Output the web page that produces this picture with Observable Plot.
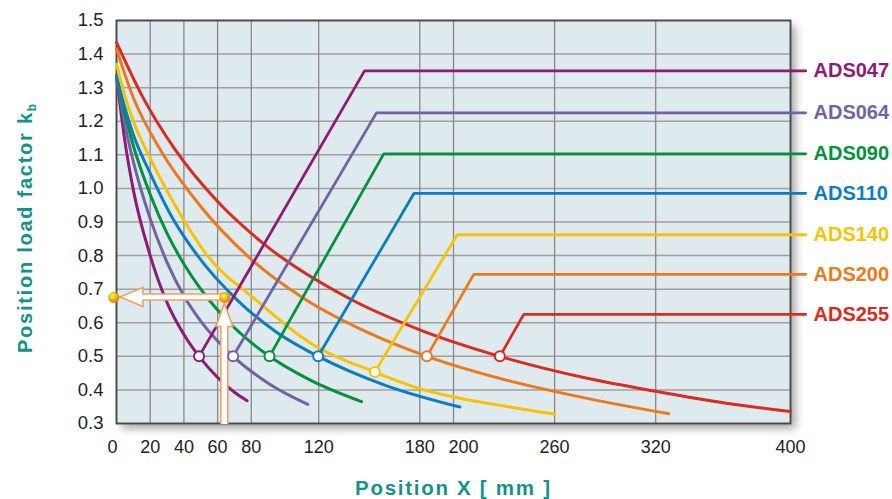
<!DOCTYPE html>
<html><head><meta charset="utf-8">
<script src="https://cdn.jsdelivr.net/npm/d3@7"></script>
<script src="https://cdn.jsdelivr.net/npm/@observablehq/plot@0.6"></script>
<style>
html,body{margin:0;padding:0;background:#fff;}
#chart{width:892px;height:499px;overflow:hidden;}
</style></head><body><div id="chart"></div>
<script>
// ---- data ----
const series = ["ADS047","ADS064","ADS090","ADS110","ADS140","ADS200","ADS255"];
const seriesColors = ["#8d1b75","#6f63a4","#00913d","#0a7dc2","#f7c300","#ec7a1d","#db2a20"];

const curveADS047 = [[0,1.335],[5,1.14],[10,0.995],[20,0.80],[30,0.66],[40,0.565],[49,0.5],[60,0.437],[70,0.393],[77.5,0.368]];
const curveADS064 = [[0,1.335],[5,1.19],[10,1.08],[20,0.91],[30,0.78],[40,0.68],[50,0.605],[69.2,0.5],[90,0.42],[113.5,0.357]];
const curveADS090 = [[0,1.335],[5,1.222],[10,1.127],[20,0.982],[30,0.866],[40,0.775],[50,0.70],[70,0.585],[90.8,0.5],[115,0.429],[145.4,0.365]];
const curveADS110 = [[0,1.335],[5,1.24],[10,1.16],[20,1.045],[34,0.905],[47,0.807],[72.6,0.663],[95,0.572],[119.7,0.5],[160,0.413],[203.8,0.349]];
const curveADS140 = [[0,1.37],[5,1.275],[10,1.2],[20,1.09],[40,0.905],[53,0.806],[83,0.667],[115,0.54],[153.3,0.453],[180,0.404],[200,0.379],[230,0.352],[260,0.328]];
const curveADS200 = [[0,1.415],[10,1.27],[26,1.115],[50,0.946],[79.5,0.791],[111,0.673],[150,0.569],[184.2,0.5],[230,0.431],[280,0.374],[327.8,0.329]];
const curveADS255 = [[0,1.435],[16,1.268],[35,1.114],[60,0.961],[87.4,0.835],[139,0.67],[180,0.579],[227.5,0.5],[280,0.434],[320,0.396],[360,0.362],[400,0.336]];
const curves = [curveADS047,curveADS064,curveADS090,curveADS110,curveADS140,curveADS200,curveADS255];

const markerX = [49, 69.2, 90.8, 119.7, 153.3, 184.2, 227.5];
const markerK = [0.5, 0.5, 0.5, 0.5, 0.453, 0.5, 0.5];
const cornerX = [147.2, 154.3, 158.6, 176.5, 202.2, 212, 241.7];
const plateauK = [1.35, 1.225, 1.103, 0.985, 0.862, 0.744, 0.625];

const xTicks = [0,20,40,60,80,120,180,200,260,320,400];
const xTicksShiftLeft = [0];     // label nudged left in the original
const xTicksShiftRight = [200];  // label nudged right in the original
const yTicks = [0.3,0.4,0.5,0.6,0.7,0.8,0.9,1.0,1.1,1.2,1.3,1.4,1.5];
const xDomain = [0, 400];
const yDomain = [0.3, 1.5];
const labelLineX = 409;          // short lead line past the frame to the labels
const readX = 64.3, readK = 0.675; // reading example (gold dots + arrows)
const readLeftX = -1.6;

const xLabel = "Position X [ mm ]";
const yLabel = "Position load factor k";
const yLabelSub = "b";
const teal = "#14918a";

// ---- tables built from the arrays ----
const curveRows = series.flatMap((s, i) => curves[i].map(([x, k]) => ({s, x, k})));
const stepRows = series.flatMap((s, i) => [
  {s, x: markerX[i], k: markerK[i]},
  {s, x: cornerX[i], k: plateauK[i]},
  {s, x: labelLineX, k: plateauK[i]}
]);
const markerRows = series.map((s, i) => ({s, x: markerX[i], k: markerK[i]}));
const labelRows = series.map((s, i) => ({s, x: xDomain[1], k: plateauK[i]}));
const readRows = [{x: readX, k: readK}, {x: readLeftX, k: readK}];
const xTicksPlain = xTicks.filter(t => !xTicksShiftLeft.includes(t) && !xTicksShiftRight.includes(t));

function readingArrows(index, scales) {
  const g = d3.create("svg:g");
  const grad = g.append("defs").append("radialGradient")
    .attr("id", "goldBall").attr("cx", "38%").attr("cy", "35%").attr("r", "65%");
  grad.append("stop").attr("offset", "0%").attr("stop-color", "#fff3a0");
  grad.append("stop").attr("offset", "40%").attr("stop-color", "#f9c70a");
  grad.append("stop").attr("offset", "100%").attr("stop-color", "#c98600");
  const X = scales.x(readX), Y = scales.y(readK);
  const bottom = scales.y(yDomain[0]) + 1;
  const left = scales.x(xDomain[0]);
  const headL = 23, headW = 8.5, shaftW = 3.5;
  const tipY = Y + 6.5;
  const v = [[X - shaftW, bottom], [X - shaftW, tipY + headL], [X - headW, tipY + headL], [X, tipY],
             [X + headW, tipY + headL], [X + shaftW, tipY + headL], [X + shaftW, bottom]];
  const tipX = left + 4;
  const hs = 3, hw = 9.5;
  const h = [[tipX, Y], [tipX + headL, Y - hw], [tipX + headL, Y - hs], [X, Y - hs],
             [X, Y + hs], [tipX + headL, Y + hs], [tipX + headL, Y + hw]];
  const style = p => p.attr("fill", "#fff").attr("stroke", "#f2a163").attr("stroke-width", 1.6).attr("stroke-linejoin", "miter");
  style(g.append("path").attr("d", "M" + v.map(p => p.join(",")).join("L")));
  style(g.append("path").attr("d", "M" + h.map(p => p.join(",")).join("L") + "Z"));
  return g.node();
}

const tickFont = 18;
const chart = Plot.plot({
  width: 892,
  height: 499,
  marginLeft: 116,
  marginRight: 102,
  marginTop: 20,
  marginBottom: 76,
  style: {fontFamily: "'Liberation Sans', Arial, sans-serif", color: "#222", background: "transparent"},
  x: {domain: xDomain},
  y: {domain: yDomain},
  color: {domain: series, range: seriesColors},
  marks: [
    Plot.frame({fill: "#dfeaee", stroke: "none"}),
    Plot.gridY(yTicks, {stroke: "#a0a0a0", strokeOpacity: 1, strokeWidth: 1.5}),
    Plot.gridX(xTicks, {stroke: "#888", strokeOpacity: 1, strokeWidth: 1.3}),
    Plot.frame({stroke: "#4a4a4a", strokeWidth: 1.8}),
    Plot.line(curveRows, {x: "x", y: "k", z: "s", stroke: "s", strokeWidth: 3, curve: "monotone-x"}),
    Plot.line(stepRows, {x: "x", y: "k", z: "s", stroke: "s", strokeWidth: 2.8, strokeLinejoin: "miter"}),
    readingArrows,
    Plot.dot(markerRows, {x: "x", y: "k", r: 5, fill: "#fff", stroke: "s", strokeWidth: 2}),
    Plot.dot(readRows, {x: "x", y: "k", r: 5.3, fill: "url(#goldBall)", stroke: "#d89a00", strokeWidth: 0.5}),
    Plot.text(labelRows, {x: "x", y: "k", text: "s", fill: "s", dx: 23, textAnchor: "start",
      fontWeight: "bold", fontSize: 20, letterSpacing: 0.6}),
    Plot.axisX(xTicksPlain, {tickSize: 0, tickPadding: 17, fontSize: tickFont, label: null}),
    Plot.axisX(xTicksShiftLeft, {tickSize: 0, tickPadding: 17, fontSize: tickFont, label: null, dx: -4}),
    Plot.axisX(xTicksShiftRight, {tickSize: 0, tickPadding: 17, fontSize: tickFont, label: null, dx: 10}),
    Plot.axisY(yTicks, {tickSize: 0, tickPadding: 13, fontSize: 18.5, tickFormat: d3.format(".1f"), label: null})
  ]
});

// soft drop shadow under the plotting frame
const frames = chart.querySelectorAll('[aria-label="frame"]');
if (frames.length) frames[0].style.filter = "drop-shadow(5px 5px 4px rgba(0,0,0,0.35))";

document.getElementById("chart").appendChild(chart);

// axis titles, spread to the same length as in the original
function spreadTo(textSel, target) {
  const n = textSel.text().length;
  const natural = textSel.node().getComputedTextLength();
  const ls = Math.max(0, (target - natural) / Math.max(1, n - 1));
  textSel.style("letter-spacing", ls + "px");
}
const svg = d3.select(chart);
const yl = svg.append("text")
  .attr("transform", "translate(32,353) rotate(-90)")
  .attr("text-anchor", "start").attr("fill", teal)
  .attr("font-weight", "bold").attr("font-size", 20)
  .attr("font-family", "'Liberation Sans', Arial, sans-serif");
const ylMain = yl.append("tspan").text(yLabel);
yl.append("tspan").attr("font-size", 12).attr("dy", 4).text(yLabelSub);
spreadTo(ylMain, 240);

const xl = svg.append("text")
  .attr("x", 355).attr("y", 495)
  .attr("text-anchor", "start").attr("fill", teal)
  .attr("font-weight", "bold").attr("font-size", 20.5)
  .attr("font-family", "'Liberation Sans', Arial, sans-serif")
  .text(xLabel);
spreadTo(xl, 195);
</script>
</body></html>
